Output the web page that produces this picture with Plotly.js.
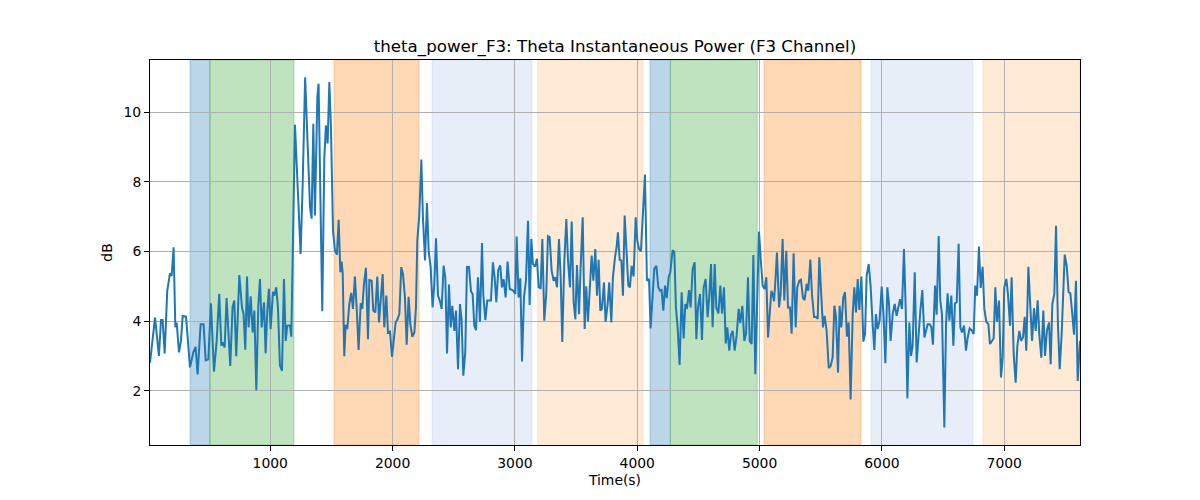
<!DOCTYPE html>
<html>
<head>
<meta charset="utf-8">
<script src="https://cdn.plot.ly/plotly-3.0.1.min.js"></script>
<style>html,body{margin:0;padding:0;background:#fff;}#chart{width:1200px;height:500px;}</style>
</head>
<body>
<div id="chart"></div>
<script>
// ---- data (time in seconds, theta power in dB) ----
const tA = [17,58,90,107,120,137,158,172,180,194,
  210,224,235,254,270,284,311,325,344,371,
  390,406,431,455,472,494,515,540,562,583,
  600,611,627,643,673,692,706,722,747,769,
  782,796,810,823,840,856,870,886,902,916,
  930,949,962,976,989,1003,1022,1033,1049,1063,
  1079,1096,1112,1126,1139,1161,1172,1202,1218,1235,
  1248,1265,1285];
const vA = [2.8,4.1,3.0,4.03,4.03,3.07,4.87,5.2,5.37,5.3,
  6.12,3.82,3.96,3.1,3.43,4.15,4.13,3.53,2.67,3.1,
  3.26,2.47,3.91,3.91,2.87,2.9,4.51,2.55,3.43,4.78,
  3.29,3.39,3.24,4.66,2.71,4.41,4.59,2.99,5.32,4.39,
  4.2,3.18,5.28,3.82,4.71,3.67,4.3,2.01,4.42,5.21,
  3.82,4.54,3.08,4.3,4.93,3.77,4.84,4.73,4.97,4.39,
  2.73,2.57,5.21,3.43,3.87,3.88,3.55,9.64,8.23,6.6,
  5.93,7.94,11.0];

const tB = [1325,1338,1352,1365,1385,1395,1425,1442,1455,1469,
  1483,1496,1513,1529,1545,1559,1573,1583,1592,1605,
  1616,1630,1646,1662,1676,1692,1709,1722,1739,1752,
  1766,1782,1799,1810,1829,1842,1859,1875,1889,1905,
  1919,1932,1949,1962,1979,1995,2011,2025,2041,2055,
  2071,2085,2101,2115,2131,2145,2161,2178,2191,2202,
  2218,2235,2248,2265,2281,2295,2311,2327,2341,2355,
  2371,2387,2401,2417,2431,2445,2461,2475,2488,2505,
  2518,2535];
const vB = [7.27,6.94,9.67,7.03,10.44,10.82,4.28,8.71,9.62,9.1,
  10.87,9.58,6.6,6.02,5.91,6.91,5.4,5.71,5.4,2.99,
  3.89,3.77,4.49,4.81,4.35,5.28,4.2,3.17,4.51,4.35,
  5.07,5.53,3.48,5.18,5.16,4.3,4.25,5.28,3.96,4.63,
  5.35,3.82,4.73,3.67,3.7,2.97,3.53,3.96,4.06,4.2,
  5.55,5.35,4.68,3.32,4.7,3.91,3.55,3.67,4.39,6.31,
  7.03,8.64,6.98,5.74,7.39,6.02,5.55,4.39,5.07,6.38,
  4.73,4.57,4.35,5.59,5.26,3.07,5.05,3.82,4.44,3.72,
  4.3,2.62];

const tC = [2551,2564,2578,2594,2608,2624,2641,2654,2668,2682,
  2698,2714,2731,2741,2758,2774,2788,2804,2820,2834,
  2848,2864,2880,2894,2908,2924,2940,2957,2973,2987,
  3003,3014,3030,3044,3058,3074,3090,3107,3120,3134,
  3147,3164,3180,3194,3210,3224,3240,3256,3270,3284,
  3300,3316,3330,3344,3360,3374,3387,3404,3420,3434,
  3450,3464,3480,3494,3507,3524,3537,3554,3570,3583,
  3597,3613,3627,3641,3657,3671,3684,3698,3711,3728,
  3741,3758,3771,3788,3801,3818];
const vC = [4.49,4.03,2.43,3.1,5.55,5.55,4.85,4.78,3.87,3.74,
  5.26,3.98,6.24,4.78,4.03,4.59,4.59,4.59,5.69,5.26,
  4.54,5.47,5.6,4.97,5.2,4.68,5.71,4.92,4.9,4.87,
  4.78,6.43,4.68,5.23,2.84,4.68,5.16,6.88,4.46,6.36,
  5.64,5.56,5.79,4.97,4.95,6.36,4.01,4.78,6.44,6.41,
  5.45,5.16,5.26,4.97,6.36,5.26,3.4,5.74,6.93,5.74,
  4.97,6.86,4.54,4.05,5.61,4.2,5.55,6.98,3.77,5.0,
  3.98,4.87,5.88,5.16,6.07,4.73,5.76,4.3,4.35,5.11,
  3.98,4.49,5.11,3.96,5.26,5.83];

const tD = [3831,3842,3856,3870,3883,3897,3913,3927,3940,3954,
  3970,3987,4000,4014,4030,4047,4063,4079,4096,4109,
  4126,4139,4156,4172,4186,4199,4213,4227,4240,4257,
  4270,4289,4303,4316,4330,4346,4363,4379,4393,4406,
  4423,4436,4453,4469,4483,4496,4513,4529,4543,4559,
  4575,4589,4603,4616,4633,4646,4663,4679,4693,4709,
  4723,4736,4752,4766,4780,4796,4812,4829,4842,4859,
  4875,4889,4905,4919,4935,4949,4965,4981,4995,5011,
  5025,5041,5055,5069,5085];
const vD = [6.12,6.55,5.76,5.74,4.73,7.03,5.83,5.02,4.97,5.59,
  5.28,6.98,6.31,6.07,6.01,7.03,8.21,5.16,5.21,3.79,
  4.73,5.5,5.59,4.97,4.87,4.89,4.3,5.02,4.66,5.26,
  5.4,6.04,5.98,4.39,3.82,2.74,4.83,3.5,4.49,4.35,
  4.89,4.39,5.5,5.69,3.48,4.39,4.78,3.46,4.97,5.21,
  4.11,4.73,5.64,3.82,5.64,4.39,4.22,5.02,4.22,4.97,
  3.36,3.82,3.15,3.61,3.72,3.15,3.58,4.35,3.94,4.44,
  3.43,3.63,5.26,3.43,3.34,5.9,2.47,4.35,6.57,5.69,
  5.02,4.92,5.26,3.53,4.5];

const tE = [5096,5107,5118,5129,5142,5159,5172,5188,5202,5218,
  5232,5248,5262,5278,5295,5308,5325,5338,5355,5368,
  5385,5398,5415,5428,5445,5461,5475,5488,5505,5518,
  5532,5548,5565,5581,5597,5611,5624,5641,5654,5668,
  5684,5698,5714,5728,5744,5761,5774,5788,5802,5815,
  5832,5848,5862,5875,5892,5908,5924,5938,5951,5965,
  5981,5998,6014,6028,6044,6058,6071,6088,6104,6120,
  6134,6148,6164,6180,6194,6208,6224,6238,6251,6268,
  6284,6300,6314,6330,6347];
const vE = [4.87,4.78,4.57,5.16,5.97,4.39,4.78,6.36,4.59,6.02,
  4.39,4.39,3.64,5.95,3.82,4.97,5.16,5.19,4.66,4.6,
  5.07,4.87,5.77,4.78,4.12,4.12,4.06,5.83,4.78,3.82,
  4.15,3.72,2.65,2.71,2.96,4.44,4.15,2.52,4.44,3.82,
  4.68,4.83,3.55,3.96,1.75,4.2,4.97,4.25,5.21,4.32,
  5.28,3.41,3.63,5.31,5.64,4.97,3.91,3.17,4.2,3.77,
  4.03,4.99,4.11,2.79,4.97,4.49,3.43,4.2,4.49,4.15,
  4.39,4.63,4.35,6.07,4.39,1.78,3.96,3.0,3.29,5.4,
  2.81,3.67,4.3,4.89,3.53];

const tF = [6374,6390,6404,6417,6434,6447,6464,6477,6491,6510,
  6524,6537,6551,6567,6584,6597,6611,6627,6641,6654,
  6671,6687,6701,6717,6733,6750,6763,6777,6793,6807,
  6823,6837,6853,6870,6883,6900,6913,6927,6940,6957,
  6973,6987,7000,7017,7030,7047,7060,7077,7093,7107,
  7123,7137,7153,7167,7180,7197,7210,7227,7243,7257,
  7273,7287,7303,7319,7333,7349,7366,7379,7393,7409,
  7423,7439,7453,7469,7494,7510,7526,7540,7556,7570,
  7586,7600,7619];
const vF = [3.91,3.91,3.82,3.32,5.02,4.18,6.44,4.59,4.2,0.94,
  3.91,4.8,4.01,4.73,3.29,4.51,4.54,6.22,3.82,3.67,
  3.87,3.15,3.53,3.79,3.74,3.63,5.02,4.73,6.14,4.95,
  5.56,4.35,3.98,3.91,3.34,3.45,3.5,4.97,3.98,4.59,
  2.38,2.95,4.97,5.21,4.78,3.87,5.26,3.05,2.23,3.29,
  3.72,3.43,3.53,4.12,3.15,5.56,4.73,3.43,4.37,3.72,
  4.6,3.58,2.95,4.3,3.0,3.74,3.96,2.76,4.49,4.78,
  6.74,3.87,2.62,3.63,5.91,5.59,4.83,4.8,4.2,3.61,
  5.16,2.28,3.43];

// shaded intervals
const spanStart = [344, 507, 1521, 2322, 3186, 4104, 4270, 5036, 5910, 6826];
const spanEnd   = [507, 1194, 2216, 3139, 4047, 4270, 4981, 5829, 6744, 7619];
const spanKind  = ['blue','green','orange','lightblue','lightorange','blue','green','orange','lightblue','lightorange'];

const xTicks = [1000,2000,3000,4000,5000,6000,7000];
const yTicks = [2,4,6,8,10];

// ---- build ----
const time = [].concat(tA,tB,tC,tD,tE,tF);
const theta = [].concat(vA,vB,vC,vD,vE,vF);

const kindColor = {
  blue: [31,119,180],
  green: [44,160,44],
  orange: [255,127,14],
  lightblue: [174,199,232],
  lightorange: [255,187,120]
};
const shapes = spanStart.map((s,i) => {
  const c = kindColor[spanKind[i]];
  return {
    type:'rect', xref:'x', yref:'paper', x0:s, x1:spanEnd[i], y0:0, y1:1,
    fillcolor:`rgba(${c[0]},${c[1]},${c[2]},0.3)`,
    line:{color:`rgba(${c[0]},${c[1]},${c[2]},0.3)`, width:1},
    layer:'below'
  };
});

const font = 'DejaVu Sans, sans-serif';
const data = [{
  x: time, y: theta, type:'scatter', mode:'lines',
  line:{color:'#1f77b4', width:2}, hoverinfo:'skip'
}];
const layout = {
  width:1200, height:500,
  margin:{l:150, r:120, t:60, b:55},
  paper_bgcolor:'#fff', plot_bgcolor:'rgba(0,0,0,0)',
  showlegend:false,
  font:{family:font, size:13.9, color:'#000'},
  title:{text:'theta_power_F3: Theta Instantaneous Power (F3 Channel)',
         font:{family:font, size:16.67, color:'#000'},
         x:0.5, xref:'paper', xanchor:'center', y:1-46/500, yref:'container', yanchor:'middle'},
  xaxis:{range:[17,7619], tickvals:xTicks, ticktext:xTicks.map(String),
         showgrid:true, gridcolor:'#b0b0b0', gridwidth:1,
         zeroline:false, showline:true, linecolor:'#000', linewidth:1, mirror:true,
         ticks:'outside', ticklen:5, tickcolor:'#000',
         tickfont:{family:font, size:13.9},
         title:{text:'Time(s)', font:{family:font, size:13.9}, standoff:5}},
  yaxis:{range:[0.44,11.5], tickvals:yTicks, ticktext:yTicks.map(String),
         showgrid:true, gridcolor:'#b0b0b0', gridwidth:1,
         zeroline:false, showline:true, linecolor:'#000', linewidth:1, mirror:true,
         ticks:'outside', ticklen:5, tickcolor:'#000',
         tickfont:{family:font, size:13.9},
         title:{text:'dB', font:{family:font, size:13.9}, standoff:7}},
  shapes: shapes
};
Plotly.newPlot('chart', data, layout, {staticPlot:true, displayModeBar:false});
</script>
</body>
</html>
